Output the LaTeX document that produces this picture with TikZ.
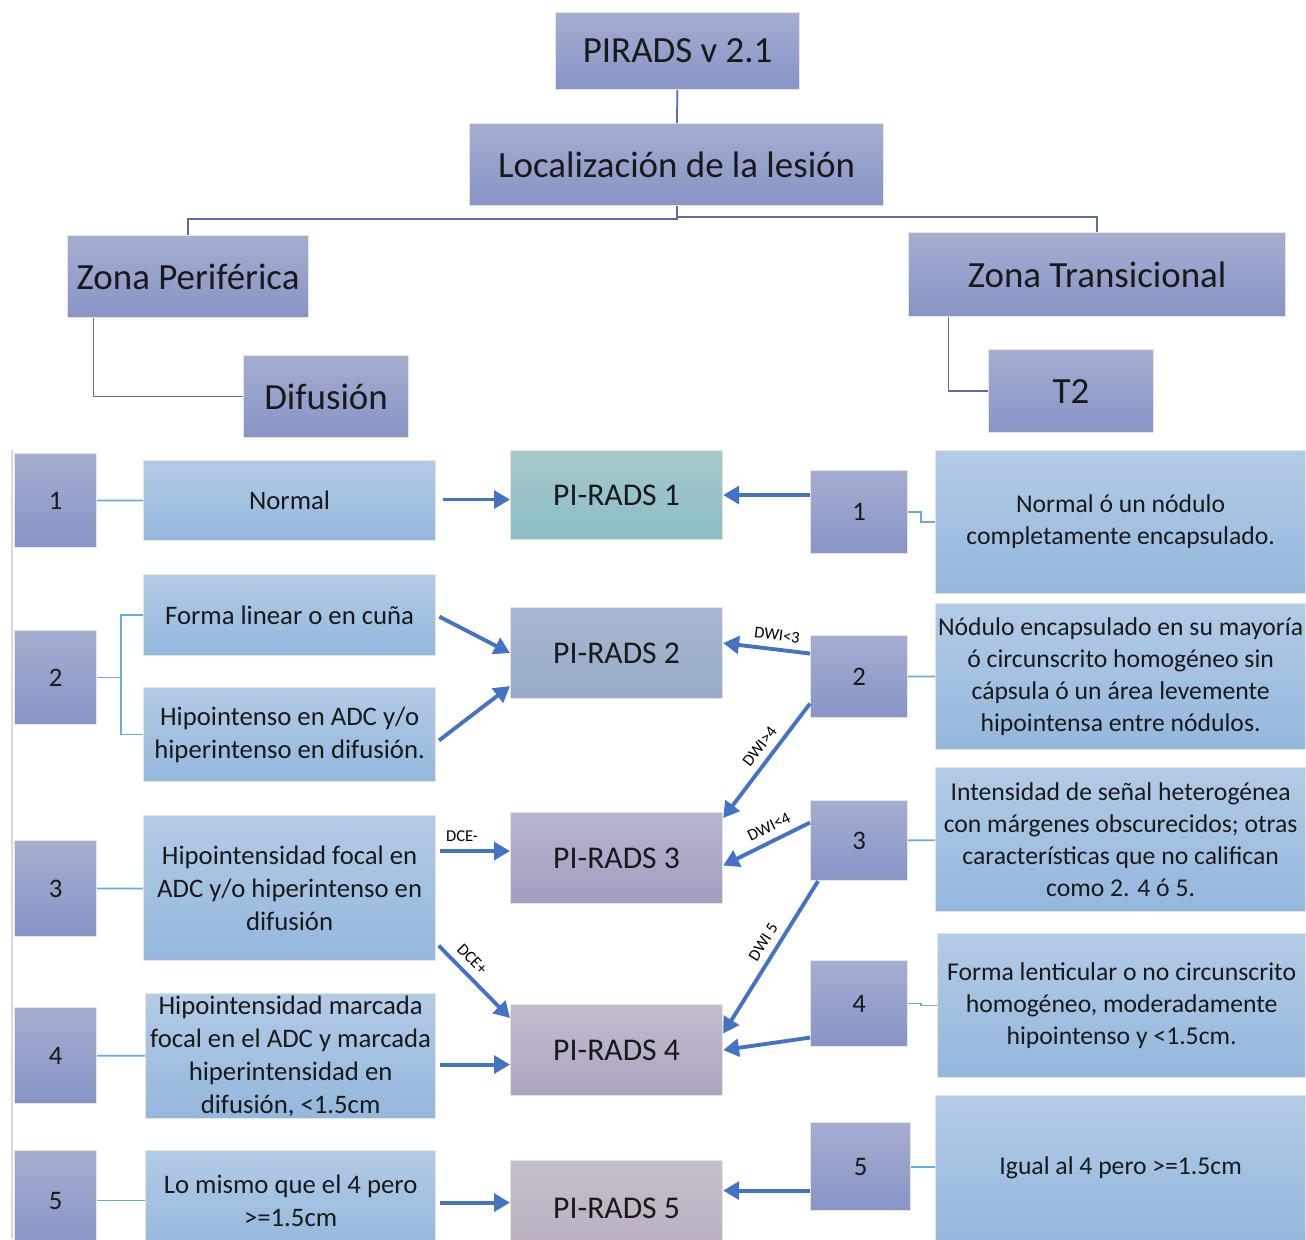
\documentclass[tikz,border=0pt]{standalone}
\usepackage{fontspec}
\setmainfont{Carlito}
\usetikzlibrary{arrows.meta}

\definecolor{headtop}{HTML}{A5ADD0}
\definecolor{headbot}{HTML}{8794C6}
\definecolor{desctop}{HTML}{B3CBE6}
\definecolor{descbot}{HTML}{94B7DD}
\definecolor{treeline}{HTML}{5B6BA3}
\definecolor{linkline}{HTML}{6FA8DC}
\definecolor{arrowblue}{HTML}{4472C4}
\definecolor{pone}{HTML}{A7C8CB}
\definecolor{ponebot}{HTML}{8ABEC5}
\definecolor{ptwo}{HTML}{A8B6CF}
\definecolor{ptwobot}{HTML}{97ABC8}
\definecolor{pthree}{HTML}{B6B6D2}
\definecolor{pthreebot}{HTML}{A29DBF}
\definecolor{pfour}{HTML}{C2BCCE}
\definecolor{pfourbot}{HTML}{AFA4BF}
\definecolor{pfive}{HTML}{C6BFCB}
\definecolor{pfivebot}{HTML}{B9AEBE}

\begin{document}
\begin{tikzpicture}[x=0.01cm, y=-0.01cm,
        box/.style={rectangle, anchor=north west, draw=black!10, line width=0.3pt, inner sep=0pt, align=center, text=black!90},
        head/.style={box, top color=headtop, bottom color=headbot, font=\fontsize{10.5}{12.6}\selectfont},
        num/.style={box, top color=headtop, bottom color=headbot, font=\fontsize{7.6}{9.4}\selectfont},
        desc/.style={box, top color=desctop, bottom color=descbot, font=\fontsize{7.6}{9.4}\selectfont},
        tdesc/.style={box, top color=desctop, bottom color=descbot, font=\fontsize{7.3}{9.1}\selectfont},
        pirads/.style={box, minimum width=2.12cm, font=\fontsize{9}{11}\selectfont},
        tree/.style={draw=treeline, line width=0.5pt},
        link/.style={draw=linkline, line width=0.5pt},
        arr/.style={draw=arrowblue, line width=1.1pt, -{Triangle[length=4.5pt, width=5pt]}},
        tag/.style={font=\fontsize{4.7}{5}\selectfont, inner sep=2pt}
    ]
        \clip (0,0) rectangle (1306,1239);

        % header
        \node[head, minimum width=2.44cm, minimum height=0.77cm] (pirads) at (555,12) {PIRADS v 2.1};
        \node[head, minimum width=4.14cm, minimum height=0.82cm] (loc) at (469,123) {Localización de la lesión};
        \node[head, minimum width=2.41cm, minimum height=0.82cm] (zp) at (67,235) {Zona Periférica};
        \node[head, minimum width=3.77cm, minimum height=0.84cm] (zt) at (908,232) {Zona Transicional};
        \node[head, minimum width=1.65cm, minimum height=0.82cm] (dif) at (243,355) {Difusión};
        \node[head, minimum width=1.65cm, minimum height=0.83cm] (t2) at (988,349) {T2};

        % left column
        \node[num, minimum width=0.82cm, minimum height=0.94cm] (l1) at (14,453) {1};
        \node[num, minimum width=0.82cm, minimum height=0.94cm] (l2) at (14,630) {2};
        \node[num, minimum width=0.82cm, minimum height=0.96cm] (l3) at (14,840) {3};
        \node[num, minimum width=0.82cm, minimum height=0.96cm] (l4) at (14,1007) {4};
        \node[num, minimum width=0.82cm, minimum height=1.00cm] (l5) at (14,1150) {5};

        \node[desc, minimum width=2.92cm, minimum height=0.80cm] (d1) at (143,460) {Normal};
        \node[desc, minimum width=2.92cm, minimum height=0.81cm] (d2a) at (143,574) {Forma linear o en cuña};
        \node[desc, minimum width=2.92cm, minimum height=0.94cm] (d2b) at (143,687) {Hipointenso en ADC y/o\\hiperintenso en difusión.};
        \node[desc, minimum width=2.92cm, minimum height=1.45cm] (d3) at (143,815) {Hipointensidad focal en\\ADC y/o hiperintenso en\\difusión};
        \node[desc, minimum width=2.90cm, minimum height=1.25cm] (d4) at (145,993) {Hipointensidad marcada\\focal en el ADC y marcada\\hiperintensidad en\\difusión, <1.5cm};
        \node[desc, minimum width=2.90cm, minimum height=1.00cm] (d5) at (145,1150) {Lo mismo que el 4 pero\\>=1.5cm};

        % categories
        \node[pirads, minimum height=0.89cm, top color=pone, bottom color=ponebot] (p1) at (510,450) {PI-RADS 1};
        \node[pirads, minimum height=0.91cm, top color=ptwo, bottom color=ptwobot] (p2) at (510,607) {PI-RADS 2};
        \node[pirads, minimum height=0.91cm, top color=pthree, bottom color=pthreebot] (p3) at (510,812) {PI-RADS 3};
        \node[pirads, minimum height=0.91cm, top color=pfour, bottom color=pfourbot] (p4) at (510,1004) {PI-RADS 4};
        \node[pirads, minimum height=0.95cm, top color=pfive, bottom color=pfivebot] (p5) at (510,1160) {PI-RADS 5};

        % right column
        \node[num, minimum width=0.97cm, minimum height=0.83cm] (r1) at (810,470) {1};
        \node[num, minimum width=0.97cm, minimum height=0.82cm] (r2) at (810,635) {2};
        \node[num, minimum width=0.97cm, minimum height=0.80cm] (r3) at (810,800) {3};
        \node[num, minimum width=0.97cm, minimum height=0.86cm] (r4) at (810,960) {4};
        \node[num, minimum width=1.00cm, minimum height=0.88cm] (r5) at (810,1122) {5};

        \node[tdesc, minimum width=3.70cm, minimum height=1.43cm] (e1) at (935,450) {Normal ó un nódulo\\completamente encapsulado.};
        \node[tdesc, minimum width=3.70cm, minimum height=1.46cm] (e2) at (935,603) {Nódulo encapsulado en su mayoría\\ó circunscrito homogéneo sin\\cápsula ó un área levemente\\hipointensa entre nódulos.};
        \node[tdesc, minimum width=3.70cm, minimum height=1.44cm] (e3) at (935,767) {Intensidad de señal heterogénea\\con márgenes obscurecidos; otras\\características que no califican\\como 2. 4 ó 5.};
        \node[tdesc, minimum width=3.68cm, minimum height=1.44cm] (e4) at (937,933) {Forma lenticular o no circunscrito\\homogéneo, moderadamente\\hipointenso y <1.5cm.};
        \node[tdesc, minimum width=3.70cm, minimum height=1.45cm] (e5) at (935,1095) {Igual al 4 pero >=1.5cm};

        % tree
        \draw[tree] (pirads) -- (loc);
        \draw[tree] (loc.south) -- ++(0,13) -| (zp.north);
        \draw[tree] (loc.south) -- ++(0,11) -| (zt.north);
        \draw[tree] ([xshift=-0.945cm]zp.south) |- (dif.west);
        \draw[tree] ([xshift=-1.485cm]zt.south) |- (t2.west);

        \draw[black!15, line width=0.6pt] (12,450) -- (12,1239);

        \draw[link] (l1) -- (d1);
        \draw[link] (l2.east) -- ++(24,0) |- (d2a.west);
        \draw[link] (l2.east) ++(24,0) |- (d2b.west);
        \draw[link] (l3) -- (d3);
        \draw[link] (l4) -- (d4);
        \draw[link] (l5) -- (d5);

        \draw[link] (r1.east) -- ++(13,0) |- (e1.west);
        \draw[link] (r2) -- (e2);
        \draw[link] (r3) -- (e3);
        \draw[link] (r4.east) -- ++(13,0) |- (e4.west);
        \draw[link] (r5) -- (e5);

        % arrows
        \coordinate (a1) at ([yshift=0.01cm]d1.east);
        \coordinate (a3) at ([yshift=0.37cm]d3.east);
        \coordinate (a4) at ([yshift=-0.085cm]d4.east);
        \coordinate (a5) at ([yshift=-0.02cm]d5.east);
        \coordinate (b1) at (r1.west |- p1.east);
        \coordinate (b5) at ([yshift=-0.24cm]r5.west);

        \draw[arr, shorten <=2pt] (a1) -- (a1 -| p1.west);
        \draw[arr] (b1) -- (p1.east);
        \draw[arr, shorten <=1pt] (d2a.east) -- (p2.west);
        \draw[arr, shorten <=1pt] ([yshift=-0.08cm]d2b.east) -- ([yshift=-0.33cm]p2.west);
        \draw[arr] ([yshift=0.23cm]r2.west) -- node[tag, sloped, above, pos=0.4] {DWI<3} ([yshift=0.1cm]p2.east);
        \draw[arr] ([yshift=-0.27cm]r2.west) -- node[tag, sloped, above, pos=0.45] {DWI>4} ([yshift=-0.06cm]p3.north east);
        \draw[arr, shorten <=1pt] (a3) -- node[tag, above, pos=0.35] {DCE-} (a3 -| p3.west);
        \draw[arr] ([yshift=0.18cm]r3.west) -- node[tag, sloped, above, pos=0.4] {DWI<4} ([yshift=-0.075cm]p3.east);
        \draw[arr, shorten <=1pt] ([yshift=-0.55cm]d3.east) -- node[tag, sloped, above, pos=0.35] {DCE+} ([yshift=-0.14cm]p4.north west);
        \draw[arr] ([xshift=0.08cm]r3.south west) -- node[tag, sloped, above, pos=0.45] {DWI 5} ([yshift=0.165cm]p4.east);
        \draw[arr, shorten <=1pt] (a4) -- (a4 -| p4.west);
        \draw[arr] ([yshift=-0.34cm]r4.west) -- (p4.east);
        \draw[arr, shorten <=1pt] (a5) -- (a5 -| p5.west);
        \draw[arr] (b5) -- (b5 -| p5.east);
    \end{tikzpicture}
\end{document}
